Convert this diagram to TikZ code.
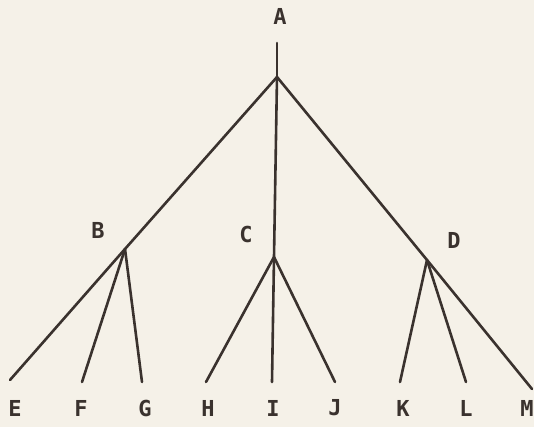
\documentclass[tikz,border=0pt]{standalone}
\usepackage{fontspec}
\setmonofont{DejaVu Sans Mono}
\definecolor{paper}{RGB}{245,241,232}
\definecolor{ink}{RGB}{58,50,46}

\begin{document}
\begin{tikzpicture}[line cap=round,line join=round,x=1pt,y=-1pt,
  branch/.style={ink,line width=2.6pt},
  letter/.style={ink,font=\ttfamily\bfseries\fontsize{22}{22}\selectfont}]
\useasboundingbox (0,0) rectangle (534,427);
\fill [paper] (0,0) rectangle (534,427);
% branch points
\coordinate (top) at (277,43);
\coordinate (a) at (277,77);
\coordinate (b) at (125,249);
\coordinate (c) at (274,257);
\coordinate (d) at (427,260);
% leaf ends
\coordinate (e) at (10,380);
\coordinate (f) at (82,382);
\coordinate (g) at (142,382);
\coordinate (h) at (206,382);
\coordinate (i) at (272,382);
\coordinate (j) at (335,382);
\coordinate (k) at (400,382);
\coordinate (l) at (466,382);
\coordinate (m) at (532,389);
% labels
\node [letter] (la) at (280,16) {A};
\node [letter] (lb) at (98,230) {B};
\node [letter] (lc) at (246,234) {C};
\node [letter] (ld) at (454,240) {D};
\foreach \n/\x in {E/15,F/81,G/145,H/208,I/273,J/335,K/403,L/466,M/527}
  \node [letter] (l\n) at (\x,408) {\n};
% tree
\draw [branch] (top)--(a);
\draw [branch] (a)--(b)--(e);
\draw [branch] (a)--(c)--(i);
\draw [branch] (a)--(d)--(m);
\draw [branch] (b)--(f);
\draw [branch] (b)--(g);
\draw [branch] (c)--(h);
\draw [branch] (c)--(j);
\draw [branch] (d)--(k);
\draw [branch] (d)--(l);
\end{tikzpicture}
\end{document}
